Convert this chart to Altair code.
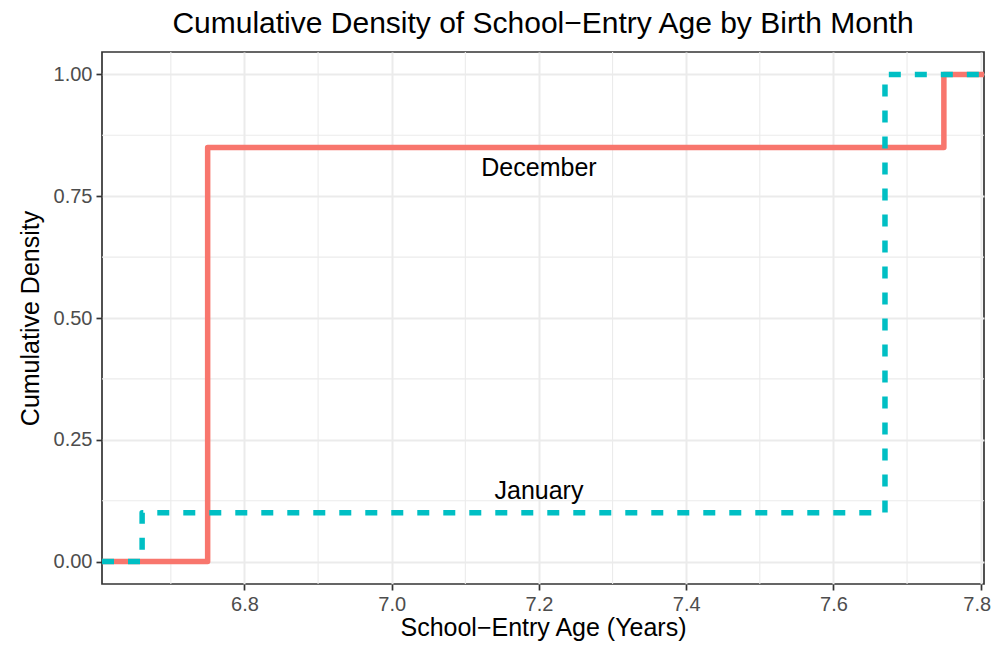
import altair as alt
import pandas as pd

# axis extents (ggplot 5% expansion of data range)
x_lo, x_hi = 6.6065, 7.8045
y_lo, y_hi = -0.046, 1.046

# ECDF steps per birth month
dec_age = [6.75, 7.75]
dec_cdf = [0.85, 1.00]
jan_age = [6.661, 7.670]
jan_cdf = [0.10, 1.00]

x_ticks = [6.8, 7.0, 7.2, 7.4, 7.6, 7.8]
x_minor = [6.7, 6.9, 7.1, 7.3, 7.5, 7.7]
y_ticks = [0.0, 0.25, 0.5, 0.75, 1.0]
y_minor = [0.125, 0.375, 0.625, 0.875]

labels = ["December", "January"]
label_x = [7.2, 7.2]
label_y = [0.807, 0.144]

FONT = "Liberation Sans"


def steps(ages, cdfs):
    xs = [x_lo] + list(ages) + [x_hi]
    ys = [0.0] + list(cdfs) + [cdfs[-1]]
    return pd.DataFrame({"x": xs, "y": ys})


xscale = alt.Scale(domain=[x_lo, x_hi], nice=False, zero=False)
yscale = alt.Scale(domain=[y_lo, y_hi], nice=False, zero=False)
xaxis = alt.Axis(
    values=x_ticks, format=".1f", title="School−Entry Age (Years)", titlePadding=1,
    labelFlush=12, labelFlushOffset=10,
)
yaxis = alt.Axis(values=y_ticks, format=".2f", title="Cumulative Density", titlePadding=10)
X = alt.X("x:Q", scale=xscale, axis=xaxis)
Y = alt.Y("y:Q", scale=yscale, axis=yaxis)

minor_x = alt.Chart(pd.DataFrame({"x": x_minor})).mark_rule(
    color="#ebebeb", strokeWidth=1.1
).encode(x=X)
minor_y = alt.Chart(pd.DataFrame({"y": y_minor})).mark_rule(
    color="#ebebeb", strokeWidth=1.1
).encode(y=Y)

dec_line = alt.Chart(steps(dec_age, dec_cdf)).mark_line(
    interpolate="step-after", color="#F8766D", strokeWidth=5.5,
    strokeJoin="round", strokeCap="butt", clip=True
).encode(x=X, y=Y)

jan_line = alt.Chart(steps(jan_age, jan_cdf)).mark_line(
    interpolate="step-after", color="#00BFC4", strokeWidth=5.5,
    strokeDash=[12, 14], strokeJoin="round", strokeCap="butt", clip=True
).encode(x=X, y=Y)

text = alt.Chart(pd.DataFrame({"x": label_x, "y": label_y, "t": labels})).mark_text(
    font=FONT, fontSize=25, color="black", baseline="middle", align="center"
).encode(x=X, y=Y, text="t:N")

chart = alt.layer(minor_x, minor_y, dec_line, jan_line, text).properties(
    width=882,
    height=532,
    title=alt.Title(
        "Cumulative Density of School−Entry Age by Birth Month",
        font=FONT, fontSize=30, fontWeight="normal", color="black",
        anchor="middle", offset=12,
    ),
    autosize=alt.AutoSizeParams(type="none"),
    padding={"left": 94, "top": 44, "right": 8, "bottom": 57},
).configure_view(
    stroke="#333333", strokeWidth=1.7
).configure_axis(
    domain=False, grid=True, gridColor="#ebebeb", gridWidth=2,
    tickColor="#333333", tickWidth=1.7, tickSize=6,
    labelColor="#4d4d4d", labelFont=FONT, labelFontSize=20, labelPadding=4,
    titleFont=FONT, titleFontSize=25, titleColor="black", titleFontWeight="normal",
)

chart.save("out.html", embed_options={"renderer": "svg", "actions": False})
